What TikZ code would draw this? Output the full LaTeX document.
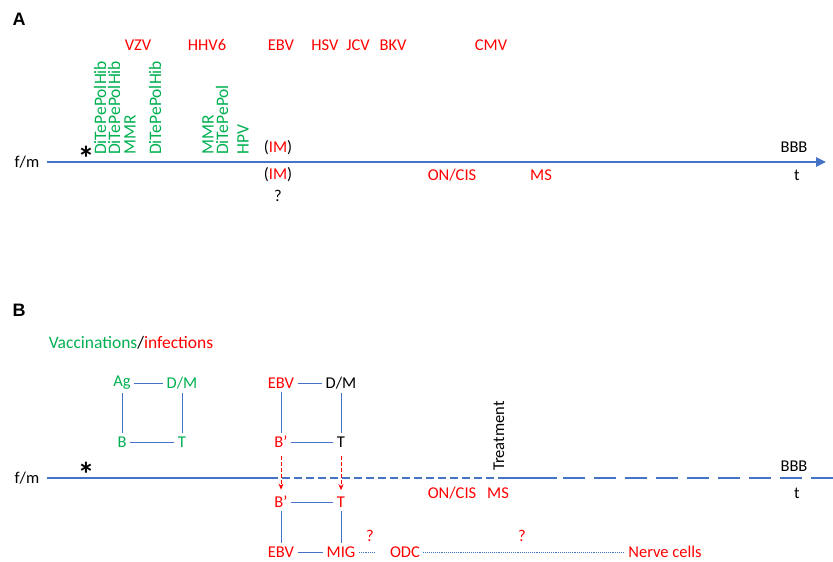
\documentclass[tikz,border=0pt]{standalone}
\usepackage{fontspec}
\setmainfont{Carlito}
\newfontfamily\panelfont{Liberation Sans}
\usetikzlibrary{arrows.meta}
\definecolor{vred}{RGB}{255,0,0}
\definecolor{vgreen}{RGB}{0,176,80}
\definecolor{lblue}{RGB}{68,114,196}
\begin{document}
\begin{tikzpicture}[x=1pt,y=-1pt,
    every node/.style={font=\fontsize{16.5}{18}\selectfont},
    inf/.style={text=vred},
    vac/.style={text=vgreen},
    vvac/.style={text=vgreen,rotate=90,anchor=west,inner sep=0pt,font=\fontsize{17.5}{19}\selectfont},
    panel/.style={font=\fontsize{18}{20}\selectfont\panelfont\bfseries},
    star/.style={font=\fontsize{34}{34}\selectfont\bfseries,inner sep=0pt},
    axis/.style={draw=lblue,line width=2.4pt},
    link/.style={draw=lblue,line width=0.9pt},
    dotlink/.style={draw=lblue,line width=0.9pt,densely dotted},
    pass/.style={draw=vred,line width=0.9pt,dash pattern=on 4pt off 2pt,-{Stealth[length=6pt,width=5pt]},shorten <=5pt,shorten >=3pt}]
  \useasboundingbox (0,0) rectangle (833,562);
  % A
  \node[panel] (labA) at (19,19) {A};
  \foreach \v/\x in {VZV/138,HHV6/207,EBV/281,HSV/325,JCV/358,BKV/393,CMV/491}
    \node[inf] (\v) at (\x,45) {\v};
  \foreach \v/\x in {DiTePePolHib/100,DiTePePolHib/114,MMR/130,DiTePePolHib/155,MMR/208,DiTePePol/222,HPV/243}
    \node[vvac] (vac\x) at (\x,155) {\v};
  \node (fmA) at (27,162) {f/m};
  \node[star] (starA) at (86,158) {*};
  \node (imA) at (278,148) {(\textcolor{vred}{IM})};
  \node (imB) at (278,175) {(\textcolor{vred}{IM})};
  \node (qA) at (278,196) {?};
  \node[inf] (oncisA) at (452,175) {ON/CIS};
  \node[inf] (msA) at (541,175) {MS};
  \node (bbbA) at (794,147) {BBB};
  \node (tmA) at (797,175) {t};
  \coordinate (endA) at (826,162);
  \draw[axis,shorten <=4pt,-{Triangle[length=10pt,width=9pt]}] (fmA) -- (endA);
  % B
  \node[panel] (labB) at (19,310) {B};
  \node[font=\fontsize{17.5}{19}\selectfont] (vacinf) at (131,343) {\textcolor{vgreen}{Vaccinations}/\textcolor{vred}{infections}};
  \node[vac] (ag) at (122,383) {Ag};
  \node[vac] (dmV) at (182,383) {D/M};
  \node[vac] (bV) at (122,442) {B};
  \node[vac] (tV) at (182,442) {T};
  \draw[link] (ag) -- (dmV) (ag) -- (bV) (dmV) -- (tV) (bV) -- (tV);
  \node[inf] (ebvI) at (281,383) {EBV};
  \node (dmI) at (341,383) {D/M};
  \node[inf] (bI) at (281,442) {B’};
  \node (tI) at (341,442) {T};
  \draw[link] (ebvI) -- (dmI) (ebvI) -- (bI) (dmI) -- (tI) (bI) -- (tI);
  \node[inf] (bC) at (281,502) {B’};
  \node[inf] (tC) at (341,502) {T};
  \node[inf] (ebvC) at (281,552) {EBV};
  \node[inf] (mig) at (341,552) {MIG};
  \node[inf] (odc) at (405,552) {ODC};
  \node[inf] (nerve) at (665,552) {Nerve cells};
  \node[inf] (qB) at (370,536) {?};
  \node[inf] (qC) at (522,536) {?};
  \draw[link] (bC) -- (tC) (bC) -- (ebvC) (tC) -- (mig) (ebvC) -- (mig);
  \draw[dotlink,shorten >=12pt] (mig) -- (odc);
  \draw[dotlink] (odc) -- (nerve);
  \node (fmB) at (27,478) {f/m};
  \node[star] (starB) at (86,474) {*};
  \node[rotate=90,anchor=west,inner sep=1pt] (treat) at (499,472) {Treatment};
  \node[inf] (oncisB) at (452,493) {ON/CIS};
  \node[inf] (msB) at (498,493) {MS};
  \node (bbbB) at (794,466) {BBB};
  \node (tmB) at (797,493) {t};
  \coordinate (s1) at (270,478);
  \coordinate (tr) at (treat.west |- fmB);
  \coordinate (s3) at (557,478);
  \coordinate (endB) at (833,478);
  \draw[axis,shorten <=4pt] (fmB) -- (s1);
  \draw[axis,dash pattern=on 8pt off 4pt] (s1) -- (tr);
  \draw[axis] (tr) -- (s3);
  \draw[axis,dash pattern=on 22pt off 9pt,dash phase=25pt] (s3) -- (endB);
  \draw[pass] (bI) -- (bC);
  \draw[pass] (tI) -- (tC);
\end{tikzpicture}
\end{document}
